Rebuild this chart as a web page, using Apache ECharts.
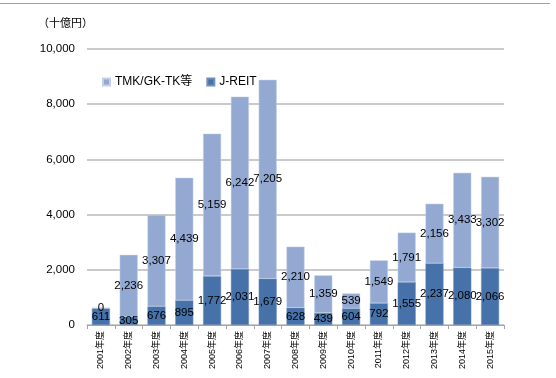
<!DOCTYPE html>
<html><head><meta charset="utf-8">
<script src="https://cdn.jsdelivr.net/npm/echarts@6/dist/echarts.min.js"></script>
<style>html,body{margin:0;padding:0;background:#fff}#c{width:556px;height:378px}</style>
</head><body><div id="c"></div>
<script>
const categories = ['2001年度','2002年度','2003年度','2004年度','2005年度','2006年度','2007年度','2008年度','2009年度','2010年度','2011年度','2012年度','2013年度','2014年度','2015年度'];
const jreit = [611,305,676,895,1772,2031,1679,628,439,604,792,1555,2237,2080,2066];
const tmk = [0,2236,3307,4439,5159,6242,7205,2210,1359,539,1549,1791,2156,3433,3302];
const yTicks = [0,2000,4000,6000,8000,10000];

const FONT = '"Liberation Sans", Arial, "Noto Sans CJK JP", sans-serif';
const chart = echarts.init(document.getElementById('c'));
const lbl = {show:true, position:'inside', color:'#000', fontSize:11.5, fontFamily:FONT,
  formatter: p => p.value.toLocaleString('en-US')};
chart.setOption({
  animation:false,
  textStyle:{fontFamily:FONT},
  grid:{left:87, right:52, top:49, bottom:53},
  legend:{left:97, top:71, itemWidth:7, itemHeight:7, itemGap:14, icon:'rect',
    textStyle:{fontSize:12, color:'#000', fontFamily:FONT},
    data:['TMK/GK-TK等','J-REIT']},
  graphic:[
    {type:'line', shape:{x1:0,y1:3.5,x2:550,y2:3.5}, style:{stroke:'#a0a0a0', lineWidth:1}},
    {type:'text', left:38, top:17, style:{text:'（十億円）', fontSize:11, fill:'#000', fontFamily:'"Noto Sans CJK JP", sans-serif'}}
  ],
  xAxis:{type:'category', data:categories,
    axisLine:{lineStyle:{color:'#a6a6a6'}},
    axisTick:{show:true, length:4, lineStyle:{color:'#a6a6a6'}},
    axisLabel:{rotate:90, fontSize:9, color:'#000', margin:6, interval:0, fontFamily:FONT}},
  yAxis:{type:'value', min:yTicks[0], max:yTicks[yTicks.length-1], interval:2000,
    axisLine:{show:false}, axisTick:{show:false},
    axisLabel:{fontSize:11.5, color:'#000', margin:12, fontFamily:FONT,
      formatter: v => v.toLocaleString('en-US')},
    splitLine:{lineStyle:{color:'#b8b8b8', width:1.5}}},
  series:[
    {name:'J-REIT', type:'bar', stack:'t', data:jreit, barWidth:18,
     itemStyle:{color:'#4672a9', borderColor:'#6f8fbd', borderWidth:0.5}, label:lbl},
    {name:'TMK/GK-TK等', type:'bar', stack:'t', data:tmk, barWidth:18,
     itemStyle:{color:'#93a9d2', borderColor:'#c3d0e8', borderWidth:0.5}, label:lbl}
  ]
});
</script></body></html>
